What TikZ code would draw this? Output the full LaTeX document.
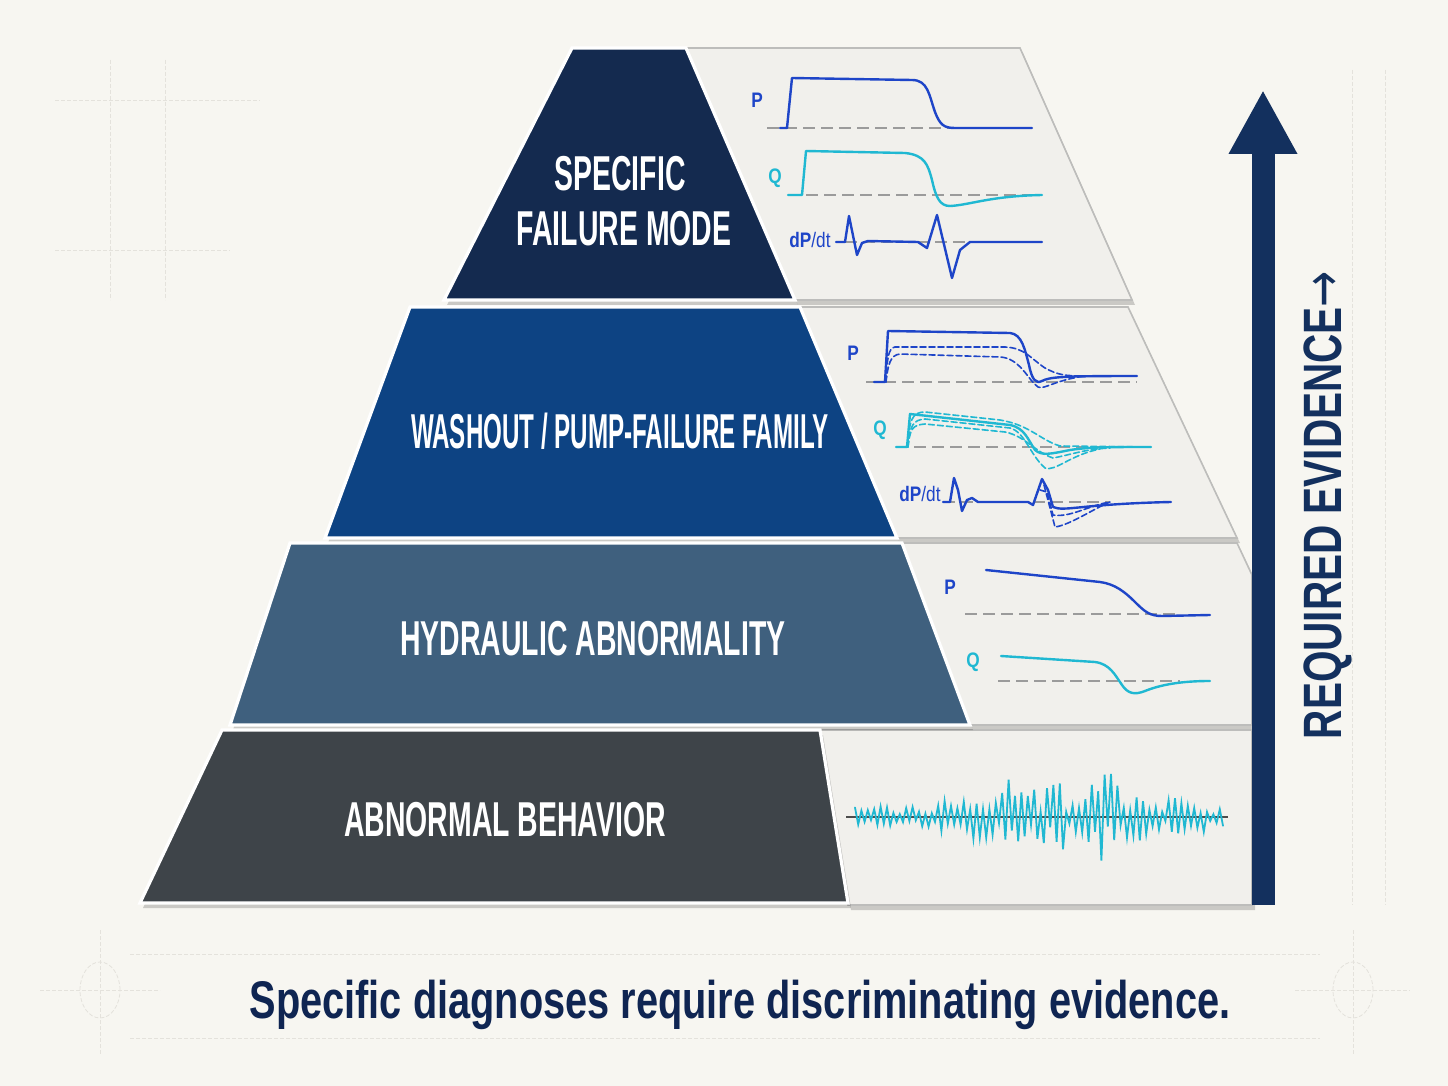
\documentclass[tikz,border=0pt]{standalone}
\usepackage{fontspec}
\setmainfont{Liberation Sans}
\newfontfamily\tierfont{Liberation Sans}[FakeStretch=0.58]
\newfontfamily\notefont{Liberation Sans}[FakeStretch=0.75]
\newfontfamily\sigfont{Liberation Sans}[FakeStretch=0.82]
\newfontfamily\arrowfont{DejaVu Sans}[FakeStretch=0.8]
\usetikzlibrary{arrows.meta}

\definecolor{paper}{HTML}{F7F6F1}
\definecolor{faint}{HTML}{E4E2DC}
\definecolor{tierA}{HTML}{142A4F}
\definecolor{tierB}{HTML}{0D4383}
\definecolor{tierC}{HTML}{3F607E}
\definecolor{tierD}{HTML}{3E4449}
\definecolor{panelfill}{HTML}{F1F0EC}
\definecolor{panelline}{HTML}{BDBDBB}
\definecolor{sigblue}{HTML}{1E45C8}
\definecolor{sigcyan}{HTML}{20B8D2}
\definecolor{basegray}{HTML}{9B9B9B}
\definecolor{navy}{HTML}{13305E}
\definecolor{captionnavy}{HTML}{0F2552}

\tikzset{
  tier/.style={draw=white, line width=1.6pt, line join=miter},
  tiershadow/.style={fill=black, opacity=0.18, xshift=1.5pt, yshift=-2.5pt},
  panel/.style={fill=panelfill, draw=panelline, line width=0.8pt},
  tierlabel/.style={text=white, font=\tierfont\bfseries\fontsize{24.5}{22}\selectfont,
    text height=17.6pt, text depth=0pt, inner sep=0.5pt, anchor=base},
  siglabel/.style={font=\sigfont\bfseries\fontsize{10.5}{12}\selectfont},
  zeroline/.style={draw=basegray, line width=0.9pt, dash pattern=on 6pt off 3pt},
  sigP/.style={draw=sigblue, line width=1.2pt, line join=round, line cap=round},
  sigQ/.style={draw=sigcyan, line width=1.2pt, line join=round, line cap=round},
  alt/.style={line width=0.8pt, dash pattern=on 3pt off 1.5pt},
  guide/.style={draw=faint, line width=0.4pt, dash pattern=on 2pt off 1pt}
}

\begin{document}
\begin{tikzpicture}[x=0.5pt,y=-0.5pt,
  declare function={nenv(\t)=10+24*max(0,1-abs(\t-1060)/190)+28*max(0,1-abs(\t-1018)/24)+32*max(0,1-abs(\t-1107)/20);}]
\useasboundingbox (0,0) rectangle (1448,1086);
\fill[paper] (0,0) rectangle (1448,1086);

% faint drafting guides
\draw[guide] (55,100) -- (260,100) (55,250) -- (230,250) (110,60) -- (110,300) (165,60) -- (165,300);
\draw[guide] (1385,70) -- (1385,905) (1352,70) -- (1352,905);
\draw[guide] (130,954) -- (1320,954) (130,1038) -- (1320,1038);
\draw[guide] (40,990) -- (160,990) (100,930) -- (100,1055);
\draw[guide] (1295,990) -- (1410,990) (1353,930) -- (1353,1055);
\draw[guide] (100,990) circle[x radius=10pt, y radius=14pt];
\draw[guide] (1353,990) circle[x radius=10pt, y radius=14pt];

% evidence panels
\fill[tiershadow] (686,48) -- (1020,48) -- (1132,300) -- (795,300) -- cycle;
\fill[tiershadow] (800,307) -- (1128,307) -- (1237,538) -- (897,538) -- cycle;
\fill[tiershadow] (902,543) -- (1237,543) -- (1252,575) -- (1252,725) -- (970,725) -- cycle;
\fill[tiershadow] (820,730) -- (1252,730) -- (1252,905) -- (848,905) -- cycle;
\draw[panel] (686,48) -- (1020,48) -- (1132,300) -- (795,300) -- cycle;
\draw[panel] (800,307) -- (1128,307) -- (1237,538) -- (897,538) -- cycle;
\draw[panel] (902,543) -- (1237,543) -- (1252,575) -- (1252,725) -- (970,725) -- cycle;
\draw[panel] (820,730) -- (1252,730) -- (1252,905) -- (848,905) -- cycle;

% pyramid tiers
\fill[tiershadow] (222,730) -- (820,730) -- (848,903) -- (140,903) -- cycle;
\fill[tiershadow] (290,543) -- (902,543) -- (970,725) -- (230,725) -- cycle;
\fill[tiershadow] (410,307) -- (800,307) -- (897,538) -- (325,538) -- cycle;
\fill[tiershadow] (572,48) -- (686,48) -- (795,300) -- (444,300) -- cycle;
\filldraw[tier, fill=tierD] (222,730) -- (820,730) -- (848,903) -- (140,903) -- cycle;
\filldraw[tier, fill=tierC] (290,543) -- (902,543) -- (970,725) -- (230,725) -- cycle;
\filldraw[tier, fill=tierB] (410,307) -- (800,307) -- (897,538) -- (325,538) -- cycle;
\filldraw[tier, fill=tierA] (572,48) -- (686,48) -- (795,300) -- (444,300) -- cycle;

\node[tierlabel] (specific) at (620,191) {SPECIFIC};
\node[tierlabel] (failmode) at (624,246) {FAILURE MODE};
\node[tierlabel] (family) at (620,448) {\scalebox{0.85}[1]{WASHOUT / PUMP-FAILURE FAMILY}};
\node[tierlabel] (hydraulic) at (593,655) {HYDRAULIC ABNORMALITY};
\node[tierlabel] (abnormal) at (505,836) {ABNORMAL BEHAVIOR};

% top panel: specific signature
\node[siglabel, text=sigblue] (pA) at (757,100) {P};
\node[siglabel, text=sigcyan] (qA) at (775,178) {Q};
\node[siglabel, text=sigblue] (dA) at (810,240) {dP\textmd{/dt}};
\draw[zeroline] (767,128) -- (1032,128);
\draw[zeroline] (788,195) -- (1042,195);
\draw[zeroline] (845,242) -- (1000,242);
\draw[sigP] (780,128) -- (787,128) -- (792,78) -- (912,80) .. controls (928,80) and (929,95) .. (935,112)
  .. controls (940,125) and (944,128) .. (955,128) -- (1032,128);
\draw[sigQ] (788,195) -- (802,195) -- (806,151) -- (905,153) .. controls (925,155) and (928,165) .. (932,180)
  .. controls (936,198) and (940,206) .. (950,206) .. controls (970,205) and (990,196) .. (1042,195);
\draw[sigP] (836,242) -- (845,242) -- (849,216) -- (857,255) -- (862,243) -- (868,241) -- (918,242)
  -- (927,248) -- (937,215) -- (952,278) -- (960,250) -- (970,242) -- (1042,242);

% second panel: family of signatures
\node[siglabel, text=sigblue] (pB) at (853,353) {P};
\node[siglabel, text=sigcyan] (qB) at (880,430) {Q};
\node[siglabel, text=sigblue] (dB) at (920,494) {dP\textmd{/dt}};
\draw[zeroline] (866,382) -- (1137,382);
\draw[zeroline] (896,447) -- (1151,447);
\draw[zeroline] (943,502) -- (1110,502);
\draw[sigP, alt] (886,382) .. controls (887,360) and (888,348) .. (895,347) -- (1005,347)
  .. controls (1025,348) and (1030,358) .. (1045,368) .. controls (1058,375) and (1065,376) .. (1085,376);
\draw[sigP, alt] (886,382) .. controls (888,365) and (890,355) .. (900,354) -- (1000,357)
  .. controls (1020,358) and (1028,380) .. (1038,387) .. controls (1044,390) and (1055,380) .. (1085,376);
\draw[sigP] (874,382) -- (885,382) -- (888,331) -- (1010,333) .. controls (1022,334) and (1025,350) .. (1029,365)
  .. controls (1032,380) and (1036,384) .. (1042,381) .. controls (1050,377) and (1060,376) .. (1137,376);
\draw[sigQ, alt] (908,447) .. controls (909,420) and (912,412) .. (925,412) -- (1000,420)
  .. controls (1030,425) and (1040,440) .. (1060,446) -- (1151,447);
\draw[sigQ, alt] (908,447) .. controls (910,425) and (913,420) .. (925,419) -- (1010,428)
  .. controls (1025,432) and (1030,455) .. (1045,468) .. controls (1055,472) and (1070,455) .. (1100,449);
\draw[sigQ, alt] (908,447) .. controls (910,428) and (913,425) .. (925,424) -- (1005,432)
  .. controls (1025,436) and (1035,452) .. (1053,458) .. controls (1070,455) and (1085,449) .. (1110,448);
\draw[sigQ] (896,447) -- (907,447) -- (910,414) -- (1010,425) .. controls (1025,428) and (1028,440) .. (1035,450)
  .. controls (1042,456) and (1050,454) .. (1070,450) .. controls (1090,447) and (1110,447) .. (1151,447);
\draw[sigP, alt] (1040,490) -- (1047,492) -- (1053,515) .. controls (1070,518) and (1090,505) .. (1110,502);
\draw[sigP, alt] (1044,485) -- (1055,527) .. controls (1070,525) and (1095,508) .. (1110,502);
\draw[sigP] (943,502) -- (950,502) -- (954,478) -- (958,490) -- (962,511) -- (967,500) -- (972,498) -- (978,502)
  -- (1028,502) -- (1033,505) -- (1042,479) -- (1048,490) -- (1053,507) .. controls (1065,512) and (1080,504) .. (1171,502);

% third panel: hydraulic trend
\node[siglabel, text=sigblue] (pC) at (950,587) {P};
\node[siglabel, text=sigcyan] (qC) at (973,662) {Q};
\draw[zeroline] (965,614) -- (1180,614);
\draw[zeroline] (998,681) -- (1180,681);
\draw[sigP] (986,570) -- (1100,582) .. controls (1115,584) and (1125,592) .. (1135,602)
  .. controls (1145,612) and (1150,616) .. (1162,616) -- (1210,615);
\draw[sigQ] (1001,656) -- (1095,662) .. controls (1110,664) and (1115,675) .. (1122,685)
  .. controls (1128,694) and (1135,695) .. (1145,691) .. controls (1160,685) and (1180,681) .. (1210,681);

% bottom panel: raw noise
\draw[black!70, line width=0.8pt] (846,817) -- (1228,817);
\pgfmathsetseed{11}
\draw[sigQ, line width=0.9pt, line join=miter]
  plot[domain=0:115, samples=116] ({855+3.2*\x}, {817 - nenv(855+3.2*\x)*(1-2*mod(round(\x),2))*(0.15+0.85*rnd)});

% evidence arrow
\coordinate (evbot) at (1263,905);
\coordinate (evtop) at (1263,90);
\draw[navy, line width=11.5pt, -{Triangle[length=32pt, width=32pt]}] (evbot) -- (evtop);
\node[rotate=90, anchor=base, text=navy, font=\notefont\bfseries\fontsize{27}{28}\selectfont] (evlabel) at (1341,505) {REQUIRED EVIDENCE{\arrowfont\mdseries →}};

\node[anchor=base, text=captionnavy, font=\notefont\bfseries\fontsize{26.5}{28}\selectfont] (caption) at (740,1018) {Specific diagnoses require discriminating evidence.};
\end{tikzpicture}
\end{document}
